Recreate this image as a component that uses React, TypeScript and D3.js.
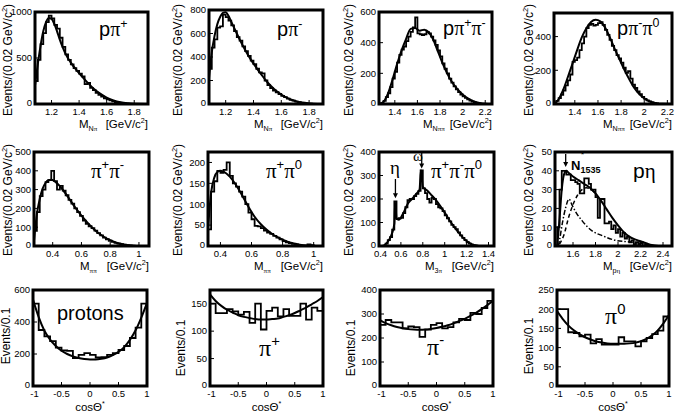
import * as d3 from "d3"

type Pt = [number, number]
type Part = { t: string; sup?: boolean; sub?: boolean; greek?: boolean }

const SANS = "'Liberation Sans', Arial, Helvetica, sans-serif"
const SERIF = "'Liberation Serif', 'Times New Roman', serif"

// ---------- invariant masses, bins of 0.02 GeV/c^2 ----------
const ppipStart = 1.08
const ppipHist = [250, 480, 650, 770, 890, 960, 930, 860, 820, 720, 620, 540, 480, 430, 390, 360, 330, 300, 215, 230, 175, 150, 120, 100, 80, 62, 50, 40, 30, 22, 16, 11, 7, 4, 2, 1, 0]
const ppipFit: Pt[] = [[1.08, 200], [1.1, 430], [1.12, 630], [1.14, 790], [1.16, 890], [1.18, 935], [1.2, 925], [1.22, 870], [1.24, 790], [1.26, 700], [1.28, 620], [1.3, 550], [1.34, 450], [1.38, 370], [1.42, 300], [1.46, 235], [1.5, 175], [1.55, 115], [1.6, 70], [1.65, 38], [1.7, 18], [1.75, 7], [1.8, 2], [1.88, 0]]

const ppimStart = 1.08
const ppimHist = [300, 480, 550, 650, 660, 760, 740, 710, 670, 620, 570, 540, 490, 450, 410, 370, 340, 300, 270, 260, 200, 160, 135, 115, 100, 85, 70, 58, 45, 35, 28, 20, 15, 10, 7, 4, 2, 0]
const ppimFit: Pt[] = [[1.08, 220], [1.1, 440], [1.12, 580], [1.14, 680], [1.16, 740], [1.18, 775], [1.2, 780], [1.22, 750], [1.24, 700], [1.26, 650], [1.28, 600], [1.3, 550], [1.34, 460], [1.38, 380], [1.42, 310], [1.46, 245], [1.5, 185], [1.55, 125], [1.6, 80], [1.65, 48], [1.7, 26], [1.75, 12], [1.8, 5], [1.86, 0]]

const ppippimStart = 1.26
const ppippimHist = [0, 5, 20, 45, 70, 110, 165, 210, 270, 320, 355, 375, 410, 440, 470, 500, 565, 460, 455, 450, 455, 470, 460, 440, 415, 385, 350, 310, 265, 230, 200, 165, 140, 115, 95, 78, 62, 50, 40, 30, 22, 15, 10, 6, 3, 1]
const ppippimFit: Pt[] = [[1.26, 0], [1.3, 15], [1.34, 70], [1.38, 160], [1.42, 260], [1.46, 350], [1.5, 425], [1.54, 490], [1.58, 495], [1.62, 478], [1.66, 485], [1.7, 468], [1.74, 420], [1.78, 345], [1.82, 270], [1.86, 205], [1.9, 150], [1.95, 100], [2.0, 62], [2.05, 35], [2.1, 17], [2.15, 7], [2.2, 2], [2.26, 0]]

const ppimpi0Start = 1.22
const ppimpi0Hist = [5, 18, 35, 55, 80, 110, 140, 175, 250, 260, 275, 320, 360, 400, 450, 470, 475, 465, 470, 480, 485, 470, 440, 410, 380, 345, 320, 290, 270, 245, 215, 185, 195, 150, 115, 95, 75, 58, 42, 30, 22, 15, 10, 6, 3, 1, 0]
const ppimpi0Fit: Pt[] = [[1.22, 0], [1.26, 28], [1.3, 85], [1.34, 160], [1.38, 240], [1.42, 320], [1.46, 395], [1.5, 450], [1.54, 487], [1.58, 500], [1.62, 490], [1.66, 455], [1.7, 400], [1.74, 335], [1.78, 275], [1.82, 215], [1.86, 160], [1.9, 110], [1.94, 72], [1.98, 45], [2.02, 25], [2.06, 12], [2.1, 5], [2.16, 1], [2.24, 0]]

const pipimStart = 0.27
const pipimHist = [80, 180, 265, 300, 340, 350, 400, 345, 300, 320, 295, 270, 245, 225, 200, 180, 160, 135, 118, 105, 95, 82, 68, 56, 45, 36, 28, 22, 17, 13, 10, 7, 5, 3, 2, 1, 0]
const pipimFit: Pt[] = [[0.27, 30], [0.29, 170], [0.31, 250], [0.33, 305], [0.35, 335], [0.37, 350], [0.39, 353], [0.41, 347], [0.45, 318], [0.5, 268], [0.55, 212], [0.6, 162], [0.65, 118], [0.7, 80], [0.75, 52], [0.8, 31], [0.85, 16], [0.9, 7], [0.95, 2], [1.0, 0]]

const pippi0Start = 0.32
const pippi0Hist = [40, 130, 155, 180, 175, 182, 200, 168, 150, 142, 130, 118, 100, 80, 64, 48, 47, 43, 37, 32, 29, 24, 20, 16, 12, 9, 7, 5, 3, 2, 1, 1, 4, 2, 0]
const pippi0Fit: Pt[] = [[0.32, 40], [0.34, 128], [0.36, 163], [0.38, 177], [0.4, 180], [0.42, 178], [0.46, 166], [0.5, 146], [0.54, 121], [0.58, 94], [0.62, 70], [0.66, 52], [0.7, 38], [0.74, 27], [0.78, 19], [0.82, 12], [0.86, 7], [0.9, 4], [0.95, 1], [1.02, 0]]

const threePiStart = 0.4
const threePiHist = [0, 0, 2, 10, 25, 38, 70, 190, 115, 118, 120, 140, 165, 195, 200, 200, 212, 222, 235, 322, 245, 225, 200, 185, 205, 200, 178, 165, 160, 148, 130, 118, 105, 90, 80, 72, 58, 45, 35, 25, 16, 10, 6, 3, 1, 0]
const threePiFit: Pt[] = [[0.44, 0], [0.48, 18], [0.52, 55], [0.54, 95], [0.548, 185], [0.56, 118], [0.58, 112], [0.62, 138], [0.66, 178], [0.7, 200], [0.74, 222], [0.77, 240], [0.783, 322], [0.8, 252], [0.84, 236], [0.88, 216], [0.92, 195], [0.96, 170], [1.0, 142], [1.04, 112], [1.08, 86], [1.12, 61], [1.16, 39], [1.2, 21], [1.25, 7], [1.3, 1]]

const petaStart = 1.46
const petaHist = [10, 30, 40, 40, 38, 38, 35, 35, 34, 33, 28, 28, 36, 36, 33, 30, 30, 26, 15, 25, 25, 12, 12, 13, 9, 11, 7, 9, 5, 7, 4, 5, 2, 3, 1, 2, 1, 2, 0, 1, 0]
const petaFit: Pt[] = [[1.46, 0], [1.48, 14], [1.5, 30], [1.52, 38], [1.54, 40], [1.56, 39], [1.6, 37], [1.65, 35], [1.7, 33], [1.75, 31], [1.8, 28], [1.85, 24], [1.9, 19.5], [1.95, 15], [2.0, 11], [2.05, 7.5], [2.1, 5], [2.15, 3.5], [2.2, 2.5], [2.25, 1.5], [2.3, 0.5], [2.36, 0]]
const petaN1535: Pt[] = [[1.47, 0], [1.48, 3], [1.505, 12], [1.535, 20.5], [1.565, 25], [1.59, 22], [1.625, 18], [1.68, 13.5], [1.77, 8], [1.86, 5.5], [1.98, 3], [2.13, 2], [2.25, 1]]
const petaRest: Pt[] = [[1.48, 1], [1.52, 6], [1.56, 15], [1.6, 22], [1.64, 27], [1.68, 30], [1.72, 31], [1.76, 30], [1.8, 28]]

// ---------- cos(theta*) distributions, bins of 0.1 ----------
const cosStart = -1
const protonHist = [515, 350, 310, 280, 240, 222, 220, 175, 195, 205, 195, 178, 180, 195, 205, 225, 250, 300, 365, 515]
const protonFit: Pt[] = [[-1, 540], [-0.9, 430], [-0.8, 345], [-0.7, 290], [-0.6, 250], [-0.5, 220], [-0.4, 200], [-0.3, 185], [-0.2, 175], [-0.1, 169], [0, 166], [0.1, 166], [0.2, 170], [0.3, 178], [0.4, 193], [0.5, 213], [0.6, 243], [0.7, 288], [0.8, 348], [0.9, 428], [1, 520]]

const pipCosHist = [150, 133, 133, 140, 136, 130, 135, 115, 150, 103, 137, 143, 127, 140, 128, 128, 150, 121, 143, 137]
const pipCosFit: Pt[] = [[-1, 167], [-0.9, 155], [-0.8, 146], [-0.7, 139], [-0.6, 134], [-0.5, 129], [-0.4, 126], [-0.3, 124], [-0.2, 122], [-0.1, 121], [0, 121], [0.1, 122], [0.2, 123], [0.3, 126], [0.4, 129], [0.5, 133], [0.6, 138], [0.7, 143], [0.8, 149], [0.9, 155], [1, 162]]

const pimCosHist = [255, 275, 265, 265, 240, 248, 245, 205, 235, 255, 262, 240, 245, 265, 280, 275, 305, 300, 325, 355]
const pimCosFit: Pt[] = [[-1, 275], [-0.9, 262], [-0.8, 253], [-0.7, 246], [-0.6, 241], [-0.5, 237], [-0.4, 235], [-0.3, 234], [-0.2, 235], [-0.1, 238], [0, 242], [0.1, 247], [0.2, 253], [0.3, 261], [0.4, 270], [0.5, 280], [0.6, 292], [0.7, 305], [0.8, 320], [0.9, 337], [1, 355]]

const pi0CosHist = [200, 200, 140, 138, 129, 134, 111, 122, 108, 108, 108, 127, 116, 116, 103, 116, 125, 135, 144, 181]
const pi0CosFit: Pt[] = [[-1, 195], [-0.9, 175], [-0.8, 158], [-0.7, 145], [-0.6, 135], [-0.5, 127], [-0.4, 121], [-0.3, 116], [-0.2, 113], [-0.1, 111], [0, 110], [0.1, 110], [0.2, 110], [0.3, 111], [0.4, 113], [0.5, 117], [0.6, 123], [0.7, 132], [0.8, 145], [0.9, 163], [1, 185]]

// ---------- axis ticks ----------
const ticksMNpi = [1.2, 1.4, 1.6, 1.8]
const ticksMNpipi = [1.4, 1.6, 1.8, 2, 2.2]
const ticksMpipi = [0.4, 0.6, 0.8, 1]
const ticksM3pi = [0.4, 0.6, 0.8, 1, 1.2, 1.4]
const ticksMpeta = [1.6, 1.8, 2, 2.2, 2.4]
const ticksCos = [-1, -0.5, 0, 0.5, 1]

const PI = (t: string): Part => ({ t, greek: true })
const SUP = (t: string): Part => ({ t, sup: true })

type Curve = { pts: Pt[]; dash?: string }
type Panel = {
  frame: [number, number, number, number]
  xDomain: [number, number]
  yDomain: [number, number]
  xTicks: number[]
  yTicks: number[]
  start: number
  step: number
  hist: number[]
  curves: Curve[]
  title: Part[]
  titlePos: [number, number]
  titleSize: number
  yLabel: Part[]
  yLabelPos: [number, number]
  xSub?: Part[]
  arrows?: { x: number; from: number; to: number }[]
}

const massY: Part[] = [{ t: "Events/(0.02 GeV/c" }, SUP("2"), { t: ")" }]
const cosY: Part[] = [{ t: "Events/0.1" }]

const panels: Panel[] = [
  { frame: [35, 12, 148, 104], xDomain: [1.08, 1.9], yDomain: [0, 1000], xTicks: ticksMNpi, yTicks: [0, 500, 1000], start: ppipStart, step: 0.02, hist: ppipHist, curves: [{ pts: ppipFit }], title: [{ t: "p" }, PI("π"), SUP("+")], titlePos: [99, 36], titleSize: 20, yLabel: massY, yLabelPos: [8, 60], xSub: [{ t: "N" }, PI("π")] },
  { frame: [209, 10, 323, 104], xDomain: [1.08, 1.9], yDomain: [0, 800], xTicks: ticksMNpi, yTicks: [0, 200, 400, 600, 800], start: ppimStart, step: 0.02, hist: ppimHist, curves: [{ pts: ppimFit }], title: [{ t: "p" }, PI("π"), SUP("-")], titlePos: [277, 36], titleSize: 20, yLabel: massY, yLabelPos: [178, 60], xSub: [{ t: "N" }, PI("π")] },
  { frame: [379, 12, 492, 104], xDomain: [1.26, 2.26], yDomain: [0, 600], xTicks: ticksMNpipi, yTicks: [0, 200, 400, 600], start: ppippimStart, step: 0.02, hist: ppippimHist, curves: [{ pts: ppippimFit }], title: [{ t: "p" }, PI("π"), SUP("+"), PI("π"), SUP("-")], titlePos: [443, 35], titleSize: 20, yLabel: massY, yLabelPos: [349, 60], xSub: [{ t: "N" }, PI("ππ")] },
  { frame: [554, 13, 672, 104], xDomain: [1.22, 2.24], yDomain: [0, 540], xTicks: ticksMNpipi, yTicks: [0, 200, 400], start: ppimpi0Start, step: 0.02, hist: ppimpi0Hist, curves: [{ pts: ppimpi0Fit }], title: [{ t: "p" }, PI("π"), SUP("-"), PI("π"), SUP("0")], titlePos: [617, 35], titleSize: 20, yLabel: massY, yLabelPos: [529, 60], xSub: [{ t: "N" }, PI("ππ")] },

  { frame: [34, 152, 149, 246], xDomain: [0.27, 1.07], yDomain: [0, 500], xTicks: ticksMpipi, yTicks: [0, 100, 200, 300, 400, 500], start: pipimStart, step: 0.02, hist: pipimHist, curves: [{ pts: pipimFit }], title: [PI("π"), SUP("+"), PI("π"), SUP("-")], titlePos: [91, 178], titleSize: 21, yLabel: massY, yLabelPos: [8, 200], xSub: [PI("ππ")] },
  { frame: [208, 152, 323, 246], xDomain: [0.32, 1.06], yDomain: [0, 225], xTicks: ticksMpipi, yTicks: [0, 50, 100, 150, 200], start: pippi0Start, step: 0.02, hist: pippi0Hist, curves: [{ pts: pippi0Fit }], title: [PI("π"), SUP("+"), PI("π"), SUP("0")], titlePos: [266, 178], titleSize: 21, yLabel: massY, yLabelPos: [178, 200], xSub: [PI("ππ")] },
  { frame: [379, 152, 494, 246], xDomain: [0.4, 1.45], yDomain: [0, 400], xTicks: ticksM3pi, yTicks: [0, 100, 200, 300, 400], start: threePiStart, step: 0.02, hist: threePiHist, curves: [{ pts: threePiFit }], title: [PI("π"), SUP("+"), PI("π"), SUP("-"), PI("π"), SUP("0")], titlePos: [431, 178], titleSize: 21, yLabel: massY, yLabelPos: [349, 200], xSub: [{ t: "3" }, PI("π")], arrows: [{ x: 0.55, from: 285, to: 203 }, { x: 0.79, from: 398, to: 330 }] },
  { frame: [555, 152, 672, 246], xDomain: [1.44, 2.48], yDomain: [0, 50], xTicks: ticksMpeta, yTicks: [0, 10, 20, 30, 40, 50], start: petaStart, step: 0.02, hist: petaHist, curves: [{ pts: petaFit }, { pts: petaN1535, dash: "5,2,1.5,2" }, { pts: petaRest, dash: "4,3" }], title: [{ t: "p" }, PI("η")], titlePos: [633, 178], titleSize: 21, yLabel: massY, yLabelPos: [529, 200], xSub: [{ t: "p" }, PI("η")], arrows: [{ x: 1.535, from: 49, to: 42 }] },

  { frame: [33, 290, 147, 386], xDomain: [-1, 1], yDomain: [0, 600], xTicks: ticksCos, yTicks: [0, 200, 400, 600], start: cosStart, step: 0.1, hist: protonHist, curves: [{ pts: protonFit }], title: [{ t: "protons" }], titlePos: [57, 320], titleSize: 20, yLabel: cosY, yLabelPos: [6, 336] },
  { frame: [210, 290, 323, 386], xDomain: [-1, 1], yDomain: [0, 175], xTicks: ticksCos, yTicks: [0, 50, 100, 150], start: cosStart, step: 0.1, hist: pipCosHist, curves: [{ pts: pipCosFit }], title: [PI("π"), SUP("+")], titlePos: [259, 356], titleSize: 24, yLabel: cosY, yLabelPos: [181, 348] },
  { frame: [380, 290, 493, 386], xDomain: [-1, 1], yDomain: [0, 400], xTicks: ticksCos, yTicks: [0, 100, 200, 300, 400], start: cosStart, step: 0.1, hist: pimCosHist, curves: [{ pts: pimCosFit }], title: [PI("π"), SUP("-")], titlePos: [427, 355], titleSize: 24, yLabel: cosY, yLabelPos: [351, 348] },
  { frame: [557, 290, 669, 386], xDomain: [-1, 1], yDomain: [0, 250], xTicks: ticksCos, yTicks: [0, 50, 100, 150, 200, 250], start: cosStart, step: 0.1, hist: pi0CosHist, curves: [{ pts: pi0CosFit }], title: [PI("π"), SUP("0")], titlePos: [605, 324], titleSize: 24, yLabel: cosY, yLabelPos: [529, 346] },
]

// tspans with super/subscripts, dy tracked in px
function spans(parts: Part[], size: number) {
  let shift = 0
  return parts.map((p, i) => {
    const target = p.sup ? -0.42 * size : p.sub ? 0.28 * size : 0
    const dy = target - shift
    shift = target
    return (
      <tspan key={i} dy={dy} fontSize={p.sup || p.sub ? size * 0.62 : size} fontFamily={p.greek ? SERIF : SANS}>
        {p.t}
      </tspan>
    )
  })
}

function PanelView({ p, idx }: { p: Panel; idx: number }) {
  const [x0, y0, x1, y1] = p.frame
  const x = d3.scaleLinear().domain(p.xDomain).range([x0, x1])
  const y = d3.scaleLinear().domain(p.yDomain).range([y1, y0])

  // step outline of the histogram
  let hist = `M${x(p.start)},${y(0)}`
  p.hist.forEach((v, i) => {
    hist += `V${y(v)}H${x(p.start + (i + 1) * p.step)}`
  })
  hist += `V${y(0)}`

  const line = d3
    .line<Pt>()
    .x((d) => x(d[0]))
    .y((d) => y(d[1]))
    .curve(d3.curveMonotoneX)

  const clipId = `clip${idx}`
  const isCos = p.step === 0.1
  const cx = (x0 + x1) / 2

  return (
    <g>
      <defs>
        <clipPath id={clipId}>
          <rect x={x0} y={y0} width={x1 - x0} height={y1 - y0} />
        </clipPath>
      </defs>
      <g clipPath={`url(#${clipId})`}>
        <path d={hist} fill="none" stroke="#000" strokeWidth={1.8} />
        {p.curves.map((c, i) => (
          <path key={i} d={line(c.pts) ?? ""} fill="none" stroke="#000" strokeWidth={c.dash ? 1.5 : 2} strokeDasharray={c.dash} />
        ))}
      </g>
      {/* inward ticks */}
      {p.yTicks.map((t) => (
        <line key={`yt${t}`} x1={x0} x2={x0 + 4} y1={y(t)} y2={y(t)} stroke="#000" strokeWidth={1} />
      ))}
      {p.xTicks.map((t) => (
        <line key={`xt${t}`} x1={x(t)} x2={x(t)} y1={y1} y2={y1 - 4} stroke="#000" strokeWidth={1} />
      ))}
      <rect x={x0} y={y0} width={x1 - x0} height={y1 - y0} fill="none" stroke="#000" strokeWidth={3} />
      {p.yTicks.map((t) => (
        <text key={`yl${t}`} x={x0 - 3} y={y(t) + (t === 0 ? 1.5 : 3.3)} textAnchor="end" fontSize={9.5} fontFamily={SANS}>
          {t}
        </text>
      ))}
      {p.xTicks.map((t) => (
        <text key={`xl${t}`} x={x(t) + (t === p.xDomain[0] ? 1.5 : 0)} y={y1 + 11} textAnchor="middle" fontSize={9.5} fontFamily={SANS}>
          {t}
        </text>
      ))}
      <text x={p.titlePos[0]} y={p.titlePos[1]} fontSize={p.titleSize} fontFamily={SANS}>
        {spans(p.title, p.titleSize)}
      </text>
      <text transform={`translate(${p.yLabelPos[0] + 4},${p.yLabelPos[1]}) rotate(-90)`} textAnchor="middle" fontSize={12} fontFamily={SANS}>
        {spans(p.yLabel, 12)}
      </text>
      {isCos ? (
        <text x={cx} y={y1 + 25} textAnchor="middle" fontSize={11.5} fontFamily={SANS}>
          {spans([{ t: "cosΘ" }, SUP("*")], 11.5)}
        </text>
      ) : (
        <g>
          <text x={x1 - 69} y={y1 + 24} fontSize={11.5} fontFamily={SANS}>
            {spans([{ t: "M" }, ...(p.xSub ?? []).map((s) => ({ ...s, sub: true }))], 11.5)}
          </text>
          <text x={x1} y={y1 + 24} textAnchor="end" fontSize={11.5} fontFamily={SANS}>
            {spans([{ t: "[GeV/c" }, SUP("2"), { t: "]" }], 11.5)}
          </text>
        </g>
      )}
      {(p.arrows ?? []).map((a, i) => (
        <g key={`ar${i}`}>
          <line x1={x(a.x)} x2={x(a.x)} y1={y(a.from)} y2={y(a.to) - 4} stroke="#000" strokeWidth={1.3} />
          <path d={`M${x(a.x) - 2.5},${y(a.to) - 5}L${x(a.x) + 2.5},${y(a.to) - 5}L${x(a.x)},${y(a.to)}Z`} fill="#000" />
        </g>
      ))}
    </g>
  )
}

export default function App() {
  return (
    <svg
      width={676}
      height={418}
      viewBox="0 0 676 418"
      style={{ position: "absolute", left: 0, top: 0, background: "#fff" }}
    >
      <rect width={676} height={418} fill="#fff" />
      {panels.map((p, i) => (
        <PanelView key={i} p={p} idx={i} />
      ))}
      {/* resonance labels */}
      <text x={390} y={174} fontSize={19} fontFamily={SERIF}>η</text>
      <text x={413} y={161} fontSize={15} fontFamily={SERIF}>ω</text>
      <text x={571} y={170} fontSize={13} fontWeight="bold" fontFamily={SANS}>
        N
        <tspan dy={3} fontSize={9}>1535</tspan>
      </text>
      <text x={581} y={157} fontSize={8} fontFamily={SANS}>*</text>
    </svg>
  )
}
